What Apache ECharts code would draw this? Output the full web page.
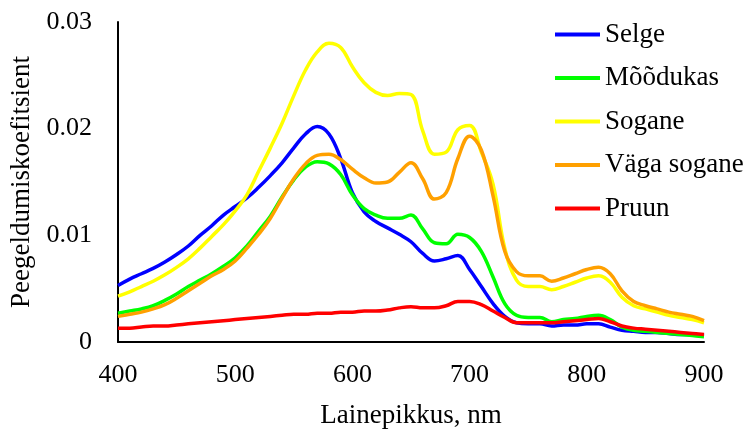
<!DOCTYPE html>
<html>
<head>
<meta charset="utf-8">
<script src="https://cdn.jsdelivr.net/npm/echarts@6/dist/echarts.min.js"></script>
<style>
  html, body { margin: 0; padding: 0; background: #fff; }
  #chart { width: 745px; height: 434px; }
</style>
</head>
<body>
<div id="chart"></div>
<script>
// lainepikkused 400..900 nm, samm 10
const wavelengths = [400,410,420,430,440,450,460,470,480,490,500,510,520,530,540,550,560,570,580,590,600,
  610,620,630,640,650,660,670,680,690,700,710,720,730,740,750,760,770,780,790,800,
  810,820,830,840,850,860,870,880,890,900]

const selge = [0.0053,0.0059,0.0064,0.0069,0.0075,0.0082,0.0090,0.0100,0.0109,0.0119,0.0127,
  0.0135,0.0145,0.0156,0.0168,0.0182,0.0195,0.0202,0.0195,0.0172,0.0140,
  0.0122,0.0113,0.0107,0.0101,0.0094,0.0083,0.0076,0.0078,0.0081,0.0068,
  0.0052,0.0036,0.0024,0.0018,0.0017,0.0017,0.0015,0.0016,0.0016,0.0017,
  0.0017,0.0014,0.0011,0.0010,0.0009,0.0009,0.0008,0.0007,0.0007,0.0006]

const moodukas = [0.0027,0.0029,0.0031,0.0034,0.0039,0.0045,0.0052,0.0058,0.0064,0.0071,0.0079,
  0.0090,0.0104,0.0118,0.0136,0.0152,0.0164,0.0169,0.0167,0.0157,0.0138,
  0.0125,0.0119,0.0116,0.0116,0.0119,0.0106,0.0093,0.0092,0.0101,0.0098,
  0.0085,0.0061,0.0036,0.0025,0.0023,0.0023,0.0019,0.0021,0.0022,0.0024,
  0.0025,0.0021,0.0014,0.0011,0.0010,0.0009,0.0008,0.0007,0.0006,0.0005]

const sogane = [0.0043,0.0047,0.0052,0.0057,0.0063,0.0070,0.0078,0.0088,0.0099,0.0110,0.0123,
  0.0138,0.0160,0.0182,0.0205,0.0231,0.0255,0.0272,0.0280,0.0276,0.0258,
  0.0243,0.0234,0.0231,0.0233,0.0232,0.0198,0.0176,0.0178,0.0199,0.0203,
  0.0178,0.0148,0.0088,0.0058,0.0052,0.0052,0.0049,0.0052,0.0056,0.0060,
  0.0062,0.0056,0.0042,0.0034,0.0031,0.0028,0.0025,0.0023,0.0021,0.0018]

const vagaSogane = [0.0024,0.0026,0.0028,0.0031,0.0035,0.0041,0.0048,0.0055,0.0062,0.0068,0.0076,
  0.0088,0.0101,0.0116,0.0135,0.0153,0.0167,0.0175,0.0176,0.0171,0.0162,
  0.0154,0.0149,0.0150,0.0159,0.0168,0.0153,0.0134,0.0140,0.0172,0.0193,
  0.0180,0.0137,0.0085,0.0066,0.0062,0.0062,0.0057,0.0060,0.0064,0.0068,
  0.0070,0.0064,0.0048,0.0038,0.0034,0.0031,0.0028,0.0026,0.0024,0.0020]

const pruun = [0.0013,0.0013,0.0014,0.0015,0.0015,0.0016,0.0017,0.0018,0.0019,0.0020,0.0021,
  0.0022,0.0023,0.0024,0.0025,0.0026,0.0026,0.0027,0.0027,0.0028,0.0028,
  0.0029,0.0029,0.0030,0.0032,0.0033,0.0032,0.0032,0.0034,0.0038,0.0038,
  0.0035,0.0029,0.0023,0.0018,0.0018,0.0018,0.0018,0.0019,0.0020,0.0021,
  0.0022,0.0019,0.0015,0.0013,0.0012,0.0011,0.0010,0.0009,0.0008,0.0007]

const seriesNames = ['Selge', 'Mõõdukas', 'Sogane', 'Väga sogane', 'Pruun']
const seriesValues = [selge, moodukas, sogane, vagaSogane, pruun]
const seriesColors = ['#0000FF', '#00FF00', '#FFFF00', '#FFA000', '#FF0000']

const font = '"Liberation Serif", "Times New Roman", serif'

const chart = echarts.init(document.getElementById('chart'))

chart.setOption({
  animation: false,
  backgroundColor: '#fff',
  textStyle: { fontFamily: font },
  grid: { left: 118, right: 41, top: 22, bottom: 84, containLabel: false },
  legend: {
    orient: 'vertical',
    left: 555,
    top: 21,
    padding: 0,
    icon: 'rect',
    itemWidth: 45,
    itemHeight: 4,
    itemGap: 16.5,
    textStyle: { fontFamily: font, fontSize: 27, color: '#000', lineHeight: 27 },
    data: seriesNames
  },
  xAxis: {
    type: 'value',
    min: 400,
    max: 900,
    interval: 100,
    name: 'Lainepikkus, nm',
    nameLocation: 'middle',
    nameGap: 60,
    nameTextStyle: { fontFamily: font, fontSize: 27, color: '#000' },
    axisLine: { show: true, lineStyle: { color: '#000', width: 2 } },
    axisTick: { show: false },
    splitLine: { show: false },
    axisLabel: { fontFamily: font, fontSize: 26, color: '#000', margin: 20 }
  },
  yAxis: {
    type: 'value',
    min: 0,
    max: 0.03,
    interval: 0.01,
    name: 'Peegeldumiskoefitsient',
    nameLocation: 'middle',
    nameGap: 80,
    nameTextStyle: { fontFamily: font, fontSize: 27, color: '#000' },
    axisLine: { show: true, lineStyle: { color: '#000', width: 2 } },
    axisTick: { show: false },
    splitLine: { show: false },
    axisLabel: { fontFamily: font, fontSize: 26, color: '#000', margin: 26 }
  },
  series: seriesNames.map((name, k) => ({
    name: name,
    type: 'line',
    smooth: 0.4,
    showSymbol: false,
    symbol: 'none',
    lineStyle: { color: seriesColors[k], width: 3.5 },
    itemStyle: { color: seriesColors[k] },
    data: wavelengths.map((w, i) => [w, seriesValues[k][i]])
  }))
})
</script>
</body>
</html>
